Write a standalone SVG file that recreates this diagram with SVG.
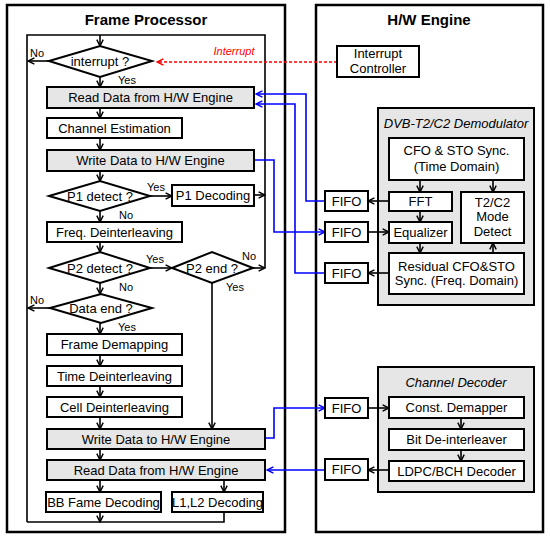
<svg xmlns="http://www.w3.org/2000/svg" width="550" height="538" viewBox="0 0 550 538">
<style>
text{font-family:"Liberation Sans",Arial,sans-serif;font-size:13px;fill:#000;text-anchor:middle}
.t{font-size:15px;font-weight:bold}
.s{font-size:11px}
.l{text-anchor:start}
.it{font-style:italic}
.box{fill:#fff;stroke:#000;stroke-width:2}
.gbox{fill:#e6e6e6;stroke:#000;stroke-width:2}
.frame{fill:#fff;stroke:#000;stroke-width:2.5}
.c{fill:none;stroke:#000;stroke-width:1.6}
.b{fill:none;stroke:#0000ff;stroke-width:1.6}
.r{fill:none;stroke:#ff0000;stroke-width:1.6;stroke-dasharray:3,2}
</style>
<defs>
<marker id="ak" viewBox="0 0 10 10" refX="9" refY="5" markerWidth="8" markerHeight="8" markerUnits="userSpaceOnUse" orient="auto"><path d="M1,1 L9,5 L1,9" fill="none" stroke="#000" stroke-width="1.8"/></marker>
<marker id="ab" viewBox="0 0 10 10" refX="9" refY="5" markerWidth="8" markerHeight="8" markerUnits="userSpaceOnUse" orient="auto"><path d="M1,1 L9,5 L1,9" fill="none" stroke="#0000ff" stroke-width="1.8"/></marker>
<marker id="ar" viewBox="0 0 10 10" refX="9" refY="5" markerWidth="8" markerHeight="8" markerUnits="userSpaceOnUse" orient="auto"><path d="M1,1 L9,5 L1,9" fill="none" stroke="#ff0000" stroke-width="1.8"/></marker>
</defs>

<g id="frame-processor">
<rect class="frame" x="7" y="5" width="278" height="527"/>
<text class="t" x="146" y="25">Frame Processor</text>
</g>
<g id="hw-engine">
<rect class="frame" x="316" y="5" width="227" height="527"/>
<text class="t" x="429" y="25">H/W Engine</text>
</g>
<g id="demodulator">
<rect class="gbox" x="378" y="108" width="156" height="197"/>
<text class="it" x="456" y="128">DVB-T2/C2 Demodulator</text>
</g>
<g id="channel-decoder">
<rect class="gbox" x="378" y="367" width="156" height="125"/>
<text class="it" x="456" y="387">Channel Decoder</text>
</g>

<g id="connectors">
<path class="c" d="M27,522 V35 H265 V268"/>
<path class="c" d="M27,522 H224 V512"/>
<path class="c" d="M100,35 V46" marker-end="url(#ak)"/>
<path class="c" d="M49,61 H28" marker-end="url(#ak)"/>
<path class="c" d="M100,77 V87" marker-end="url(#ak)"/>
<path class="c" d="M100,108 V118" marker-end="url(#ak)"/>
<path class="c" d="M100,138 V150" marker-end="url(#ak)"/>
<path class="c" d="M100,171 V181" marker-end="url(#ak)"/>
<path class="c" d="M150,196 H172" marker-end="url(#ak)"/>
<path class="c" d="M254,195 H265" marker-end="url(#ak)"/>
<path class="c" d="M100,211 V222" marker-end="url(#ak)"/>
<path class="c" d="M100,242 V252" marker-end="url(#ak)"/>
<path class="c" d="M150,268 H172" marker-end="url(#ak)"/>
<path class="c" d="M253,268 H265" marker-end="url(#ak)"/>
<path class="c" d="M212,283 V429" marker-end="url(#ak)"/>
<path class="c" d="M100,283 V294" marker-end="url(#ak)"/>
<path class="c" d="M50,308 H28" marker-end="url(#ak)"/>
<path class="c" d="M100,323 V334" marker-end="url(#ak)"/>
<path class="c" d="M100,355 V366" marker-end="url(#ak)"/>
<path class="c" d="M100,386 V397" marker-end="url(#ak)"/>
<path class="c" d="M100,417 V429" marker-end="url(#ak)"/>
<path class="c" d="M100,449 V460" marker-end="url(#ak)"/>
<path class="c" d="M100,480 V492" marker-end="url(#ak)"/>
<path class="c" d="M224,480 V492" marker-end="url(#ak)"/>
<path class="c" d="M100,512 V522" marker-end="url(#ak)"/>
<path class="r" d="M337,62 H157" marker-end="url(#ar)"/>
<path class="b" d="M325,201 H306 V94 H256" marker-end="url(#ab)"/>
<path class="b" d="M325,273 H295 V104 H256" marker-end="url(#ab)"/>
<path class="b" d="M254,160 H274 V232 H325" marker-end="url(#ab)"/>
<path class="b" d="M265,438 H274 V408 H325" marker-end="url(#ab)"/>
<path class="b" d="M325,470 H267" marker-end="url(#ab)"/>
<path class="c" d="M420,180 V192" marker-end="url(#ak)"/>
<path class="c" d="M493,180 V192" marker-end="url(#ak)"/>
<path class="c" d="M420,211 V222" marker-end="url(#ak)"/>
<path class="c" d="M420,243 V253" marker-end="url(#ak)"/>
<path class="c" d="M493,253 V243" marker-end="url(#ak)"/>
<path class="c" d="M389,201 H368" marker-end="url(#ak)"/>
<path class="c" d="M368,232 H389" marker-end="url(#ak)"/>
<path class="c" d="M389,273 H368" marker-end="url(#ak)"/>
<path class="c" d="M368,408 H389" marker-end="url(#ak)"/>
<path class="c" d="M461,418 V429" marker-end="url(#ak)"/>
<path class="c" d="M461,450 V461" marker-end="url(#ak)"/>
<path class="c" d="M389,470 H368" marker-end="url(#ak)"/>
</g>

<g id="labels">
<text class="s l" x="30" y="57">No</text>
<text class="s l" x="118" y="84">Yes</text>
<text class="s it" x="234" y="55" style="fill:#ff0000">Interrupt</text>
<text class="s l" x="147" y="191">Yes</text>
<text class="s l" x="119" y="219">No</text>
<text class="s l" x="146" y="263">Yes</text>
<text class="s l" x="242" y="260">No</text>
<text class="s l" x="226" y="291">Yes</text>
<text class="s l" x="119" y="291">No</text>
<text class="s l" x="30" y="304">No</text>
<text class="s l" x="118" y="331">Yes</text>
</g>

<g id="n-interrupt"><polygon class="box" points="49,61 100,46 152,61 100,77"/><text x="100" y="66">interrupt ?</text></g>
<g id="n-read1"><rect class="gbox" x="47" y="87" width="207" height="21"/><text x="150.5" y="102">Read Data from H/W Engine</text></g>
<g id="n-chest"><rect class="box" x="47" y="118" width="135" height="20"/><text x="114.5" y="133">Channel Estimation</text></g>
<g id="n-write1"><rect class="gbox" x="47" y="150" width="207" height="21"/><text x="150.5" y="165">Write Data to H/W Engine</text></g>
<g id="n-p1det"><polygon class="box" points="49,196 100,181 150,196 100,211"/><text x="100" y="201">P1 detect ?</text></g>
<g id="n-p1dec"><rect class="box" x="172" y="185" width="82" height="21"/><text x="213" y="200">P1 Decoding</text></g>
<g id="n-freq"><rect class="box" x="47" y="222" width="135" height="20"/><text x="114.5" y="237">Freq. Deinterleaving</text></g>
<g id="n-p2det"><polygon class="box" points="49,268 100,252 150,268 100,283"/><text x="100" y="273">P2 detect ?</text></g>
<g id="n-p2end"><polygon class="box" points="172,268 212,252 253,268 212,283"/><text x="212" y="273">P2 end ?</text></g>
<g id="n-dataend"><polygon class="box" points="50,308 101,294 152,308 101,323"/><text x="101" y="313">Data end ?</text></g>
<g id="n-framedemap"><rect class="box" x="47" y="334" width="135" height="21"/><text x="114.5" y="349">Frame Demapping</text></g>
<g id="n-timedeint"><rect class="box" x="47" y="366" width="135" height="20"/><text x="114.5" y="381">Time Deinterleaving</text></g>
<g id="n-celldeint"><rect class="box" x="47" y="397" width="135" height="20"/><text x="114.5" y="412">Cell Deinterleaving</text></g>
<g id="n-write2"><rect class="gbox" x="47" y="429" width="218" height="20"/><text x="156" y="444">Write Data to H/W Engine</text></g>
<g id="n-read2"><rect class="gbox" x="47" y="460" width="218" height="20"/><text x="156" y="475">Read Data from H/W Engine</text></g>
<g id="n-bb"><rect class="box" x="46" y="492" width="115" height="20"/><text x="103.5" y="507">BB Fame Decoding</text></g>
<g id="n-l1l2"><rect class="box" x="172" y="492" width="91" height="20"/><text x="217.5" y="507">L1,L2 Decoding</text></g>

<g id="n-intctrl"><rect class="box" x="337" y="46" width="82" height="31"/><text x="378" y="58">Interrupt</text><text x="378" y="73">Controller</text></g>
<g id="n-cfo"><rect class="box" x="389" y="138" width="135" height="42"/><text x="456.5" y="155">CFO &amp; STO Sync.</text><text x="456.5" y="171">(Time Domain)</text></g>
<g id="n-fft"><rect class="box" x="389" y="192" width="63" height="19"/><text x="420.5" y="206">FFT</text></g>
<g id="n-t2c2"><rect class="box" x="461" y="192" width="63" height="51"/><text x="492.5" y="207">T2/C2</text><text x="492.5" y="221">Mode</text><text x="492.5" y="236">Detect</text></g>
<g id="n-eq"><rect class="box" x="389" y="222" width="63" height="21"/><text x="420.5" y="237">Equalizer</text></g>
<g id="n-resid"><rect class="box" x="389" y="253" width="135" height="41"/><text x="456.5" y="271">Residual CFO&amp;STO</text><text x="456.5" y="285">Sync. (Freq. Domain)</text></g>
<g id="n-fifo1"><rect class="box" x="325" y="191" width="43" height="20"/><text x="346.5" y="206">FIFO</text></g>
<g id="n-fifo2"><rect class="box" x="325" y="222" width="43" height="20"/><text x="346.5" y="237">FIFO</text></g>
<g id="n-fifo3"><rect class="box" x="325" y="263" width="43" height="20"/><text x="346.5" y="278">FIFO</text></g>
<g id="n-fifo4"><rect class="box" x="325" y="398" width="43" height="20"/><text x="346.5" y="413">FIFO</text></g>
<g id="n-fifo5"><rect class="box" x="325" y="459" width="43" height="21"/><text x="346.5" y="474">FIFO</text></g>
<g id="n-demapper"><rect class="box" x="389" y="397" width="135" height="21"/><text x="456.5" y="412">Const. Demapper</text></g>
<g id="n-bitdeint"><rect class="box" x="389" y="429" width="135" height="21"/><text x="456.5" y="444">Bit De-interleaver</text></g>
<g id="n-ldpc"><rect class="box" x="389" y="461" width="135" height="20"/><text x="456.5" y="476">LDPC/BCH Decoder</text></g>
</svg>
